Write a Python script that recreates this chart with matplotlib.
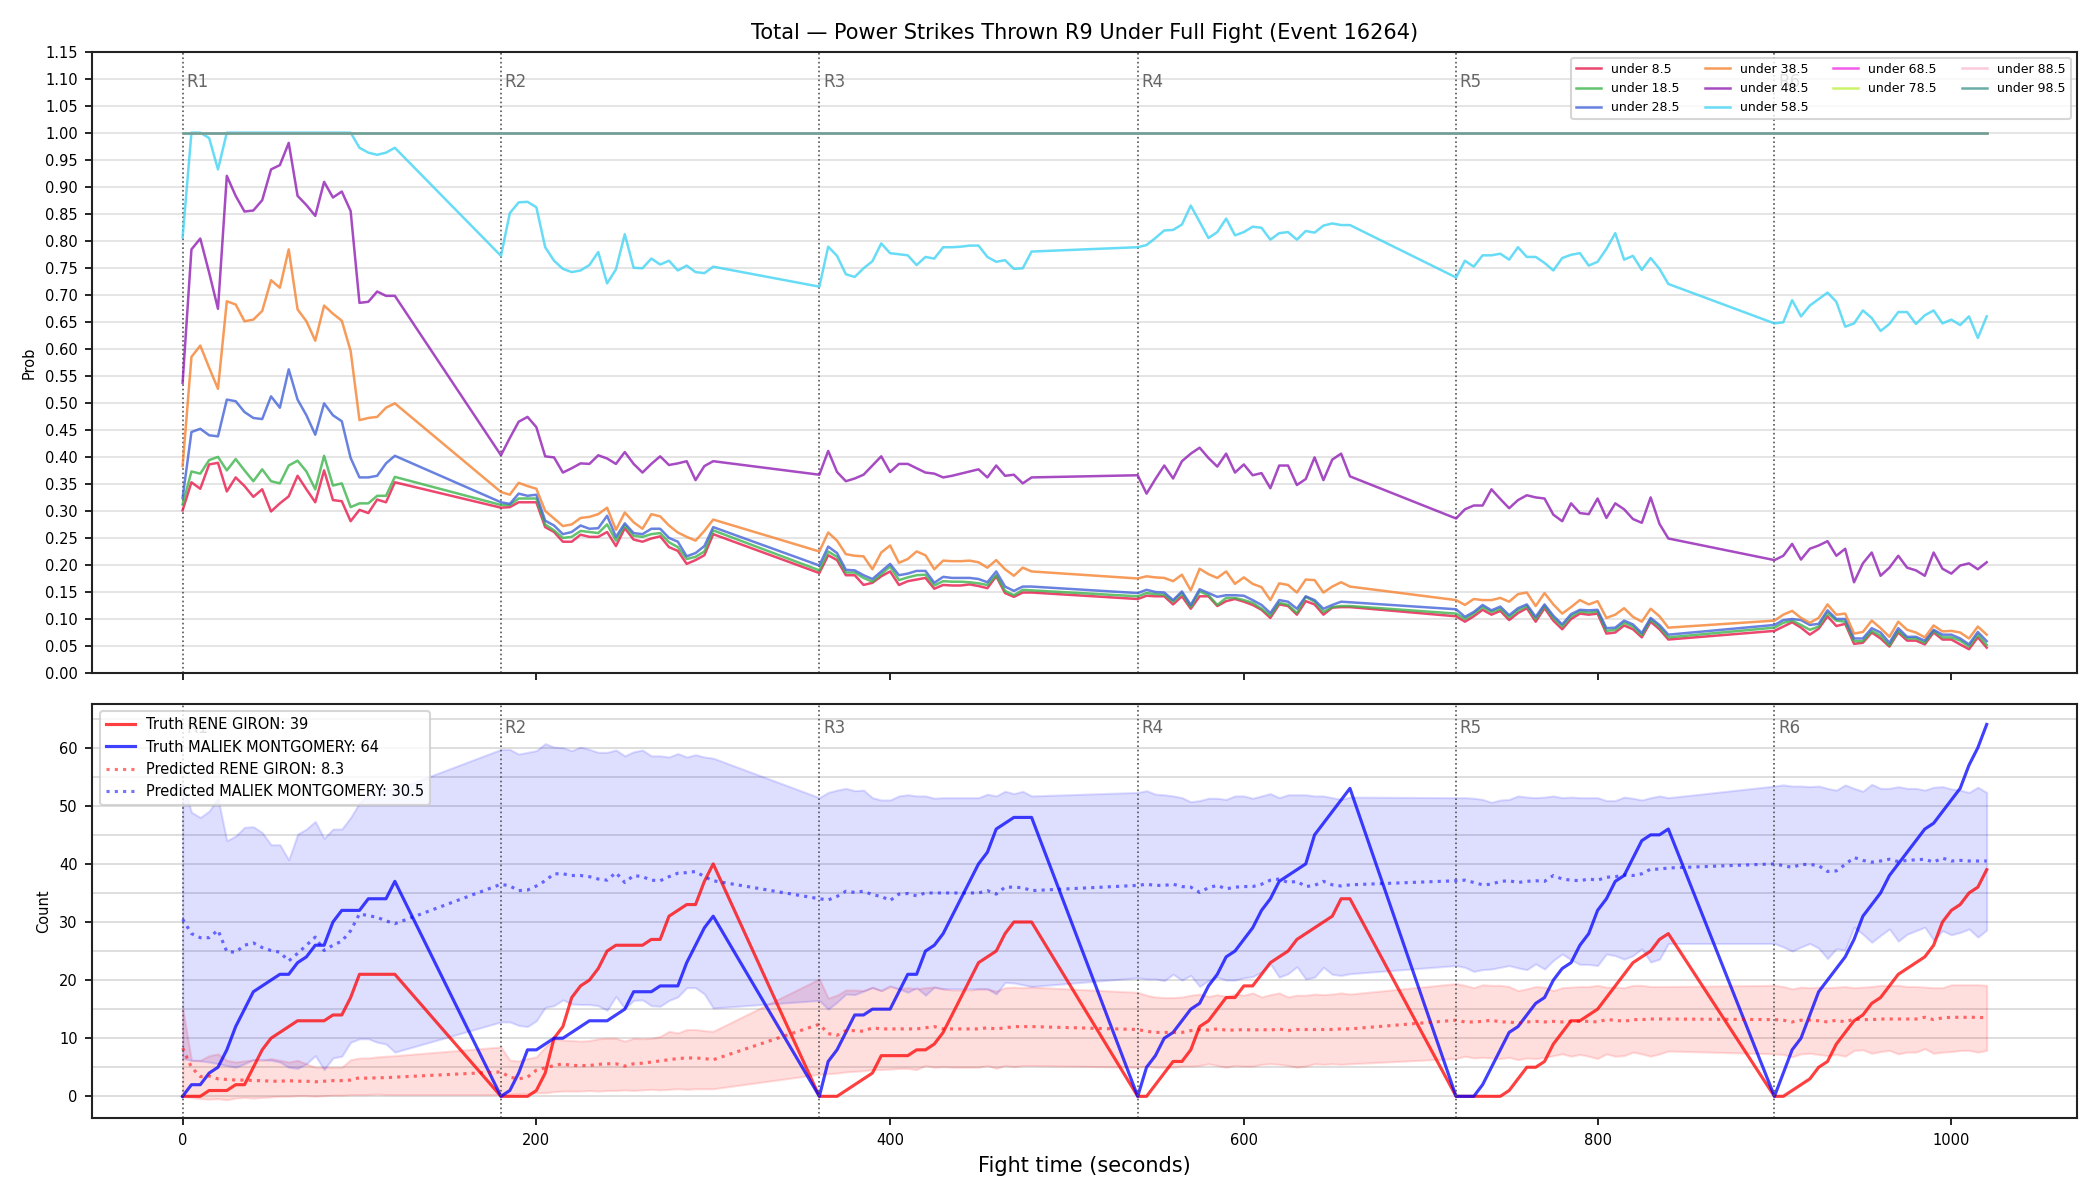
#!/usr/bin/python3

## Power strikes thrown: threshold probabilities (top) and running counts (bottom)

import matplotlib
matplotlib.use("Agg")
import matplotlib.pyplot as plt
import matplotlib.transforms as mtransforms
from matplotlib.ticker import MultipleLocator, FormatStrFormatter

# 0 _ Data
#
ROUND_STARTS = [0, 180, 360, 540, 720, 900]
ROUND_NAMES = ["R1", "R2", "R3", "R4", "R5", "R6"]

# samples every 5 s for the first 120 s of each round
TIME = [start + step for start in ROUND_STARTS for step in range(0, 125, 5)]

THRESH_LABELS = ["under 8.5", "under 18.5", "under 28.5", "under 38.5", "under 48.5",
                 "under 58.5", "under 68.5", "under 78.5", "under 88.5", "under 98.5"]

UNDER_8_5 = [
    0.301, 0.353, 0.341, 0.386, 0.389, 0.336, 0.362, 0.346, 0.326, 0.340, 0.299, 0.314, 0.327, 0.365, 0.340, 0.316, 0.375, 0.320, 0.318, 0.281, 0.302, 0.296, 0.321, 0.316, 0.353,
    0.306, 0.307, 0.316, 0.316, 0.316, 0.270, 0.261, 0.243, 0.243, 0.256, 0.252, 0.252, 0.261, 0.235, 0.268, 0.247, 0.243, 0.249, 0.253, 0.233, 0.226, 0.202, 0.209, 0.218, 0.257,
    0.185, 0.218, 0.209, 0.181, 0.181, 0.163, 0.167, 0.179, 0.188, 0.163, 0.170, 0.173, 0.176, 0.156, 0.163, 0.162, 0.162, 0.164, 0.161, 0.157, 0.179, 0.148, 0.141, 0.149, 0.149,
    0.137, 0.143, 0.142, 0.142, 0.127, 0.142, 0.119, 0.142, 0.142, 0.124, 0.133, 0.137, 0.132, 0.126, 0.117, 0.102, 0.127, 0.124, 0.108, 0.133, 0.127, 0.108, 0.121, 0.122, 0.122,
    0.105, 0.095, 0.105, 0.117, 0.108, 0.115, 0.098, 0.111, 0.120, 0.095, 0.120, 0.097, 0.081, 0.100, 0.110, 0.108, 0.110, 0.073, 0.075, 0.088, 0.081, 0.066, 0.095, 0.081, 0.062,
    0.078, 0.086, 0.094, 0.084, 0.071, 0.082, 0.105, 0.087, 0.091, 0.054, 0.056, 0.075, 0.064, 0.049, 0.075, 0.060, 0.060, 0.053, 0.075, 0.062, 0.062, 0.053, 0.044, 0.066, 0.047,
]
UNDER_18_5 = [
    0.312, 0.373, 0.369, 0.394, 0.400, 0.375, 0.396, 0.375, 0.355, 0.377, 0.355, 0.351, 0.384, 0.393, 0.373, 0.340, 0.402, 0.347, 0.351, 0.307, 0.314, 0.314, 0.328, 0.328, 0.363,
    0.311, 0.311, 0.323, 0.323, 0.323, 0.275, 0.264, 0.250, 0.252, 0.263, 0.261, 0.259, 0.275, 0.245, 0.273, 0.254, 0.252, 0.257, 0.259, 0.242, 0.233, 0.211, 0.215, 0.225, 0.264,
    0.190, 0.225, 0.215, 0.186, 0.186, 0.176, 0.169, 0.183, 0.197, 0.172, 0.177, 0.181, 0.182, 0.162, 0.170, 0.169, 0.169, 0.168, 0.166, 0.163, 0.181, 0.152, 0.144, 0.154, 0.153,
    0.142, 0.148, 0.146, 0.145, 0.132, 0.148, 0.122, 0.151, 0.144, 0.126, 0.139, 0.139, 0.135, 0.130, 0.119, 0.106, 0.130, 0.126, 0.111, 0.141, 0.132, 0.113, 0.122, 0.124, 0.124,
    0.110, 0.100, 0.110, 0.122, 0.113, 0.119, 0.103, 0.116, 0.124, 0.100, 0.124, 0.102, 0.086, 0.105, 0.114, 0.112, 0.114, 0.078, 0.080, 0.093, 0.086, 0.070, 0.099, 0.085, 0.066,
    0.084, 0.093, 0.097, 0.089, 0.080, 0.086, 0.111, 0.097, 0.095, 0.059, 0.059, 0.078, 0.069, 0.051, 0.078, 0.064, 0.064, 0.056, 0.078, 0.066, 0.066, 0.060, 0.049, 0.071, 0.052,
]
UNDER_28_5 = [
    0.324, 0.446, 0.452, 0.440, 0.438, 0.506, 0.503, 0.483, 0.472, 0.470, 0.512, 0.491, 0.562, 0.506, 0.477, 0.441, 0.499, 0.477, 0.466, 0.398, 0.362, 0.362, 0.365, 0.388, 0.402,
    0.316, 0.313, 0.332, 0.328, 0.330, 0.282, 0.273, 0.257, 0.261, 0.273, 0.267, 0.268, 0.291, 0.252, 0.277, 0.259, 0.257, 0.267, 0.267, 0.250, 0.243, 0.216, 0.222, 0.235, 0.270,
    0.199, 0.234, 0.222, 0.191, 0.190, 0.181, 0.174, 0.188, 0.202, 0.181, 0.184, 0.189, 0.189, 0.167, 0.178, 0.176, 0.176, 0.176, 0.174, 0.168, 0.188, 0.160, 0.152, 0.160, 0.160,
    0.148, 0.154, 0.150, 0.149, 0.135, 0.151, 0.126, 0.155, 0.148, 0.141, 0.144, 0.144, 0.143, 0.135, 0.126, 0.111, 0.135, 0.132, 0.119, 0.142, 0.135, 0.119, 0.126, 0.132, 0.131,
    0.118, 0.104, 0.113, 0.126, 0.116, 0.123, 0.107, 0.120, 0.127, 0.104, 0.127, 0.106, 0.090, 0.109, 0.117, 0.116, 0.117, 0.083, 0.084, 0.097, 0.090, 0.074, 0.102, 0.089, 0.071,
    0.089, 0.098, 0.100, 0.098, 0.089, 0.091, 0.116, 0.100, 0.100, 0.064, 0.064, 0.083, 0.075, 0.056, 0.083, 0.067, 0.067, 0.060, 0.080, 0.071, 0.071, 0.064, 0.053, 0.076, 0.059,
]
UNDER_38_5 = [
    0.383, 0.585, 0.606, 0.565, 0.526, 0.688, 0.682, 0.651, 0.654, 0.670, 0.727, 0.713, 0.784, 0.673, 0.651, 0.615, 0.680, 0.665, 0.652, 0.596, 0.468, 0.472, 0.474, 0.491, 0.499,
    0.335, 0.330, 0.352, 0.346, 0.341, 0.300, 0.286, 0.272, 0.275, 0.287, 0.289, 0.294, 0.306, 0.265, 0.297, 0.279, 0.267, 0.294, 0.290, 0.273, 0.260, 0.252, 0.245, 0.263, 0.284,
    0.225, 0.260, 0.245, 0.220, 0.217, 0.216, 0.192, 0.223, 0.236, 0.204, 0.211, 0.225, 0.218, 0.192, 0.208, 0.207, 0.207, 0.208, 0.205, 0.195, 0.209, 0.192, 0.180, 0.195, 0.188,
    0.175, 0.179, 0.177, 0.176, 0.170, 0.182, 0.153, 0.193, 0.183, 0.176, 0.188, 0.165, 0.177, 0.165, 0.159, 0.135, 0.166, 0.163, 0.149, 0.173, 0.172, 0.149, 0.160, 0.168, 0.160,
    0.135, 0.126, 0.137, 0.135, 0.135, 0.139, 0.132, 0.146, 0.149, 0.124, 0.148, 0.127, 0.110, 0.122, 0.135, 0.127, 0.133, 0.102, 0.108, 0.120, 0.104, 0.095, 0.119, 0.105, 0.084,
    0.097, 0.108, 0.115, 0.102, 0.093, 0.102, 0.127, 0.108, 0.110, 0.073, 0.076, 0.097, 0.083, 0.067, 0.095, 0.080, 0.075, 0.066, 0.088, 0.077, 0.078, 0.075, 0.064, 0.086, 0.071,
]
UNDER_48_5 = [
    0.537, 0.784, 0.804, 0.741, 0.674, 0.920, 0.883, 0.854, 0.856, 0.875, 0.932, 0.940, 0.981, 0.883, 0.866, 0.846, 0.909, 0.880, 0.891, 0.855, 0.685, 0.687, 0.706, 0.698, 0.698,
    0.403, 0.435, 0.465, 0.474, 0.455, 0.401, 0.399, 0.371, 0.379, 0.388, 0.387, 0.403, 0.397, 0.387, 0.409, 0.387, 0.371, 0.387, 0.401, 0.385, 0.388, 0.392, 0.357, 0.383, 0.392,
    0.367, 0.411, 0.372, 0.355, 0.360, 0.367, 0.384, 0.401, 0.372, 0.387, 0.387, 0.379, 0.371, 0.369, 0.362, 0.365, 0.369, 0.373, 0.377, 0.362, 0.384, 0.365, 0.367, 0.351, 0.362,
    0.366, 0.332, 0.359, 0.384, 0.360, 0.392, 0.406, 0.417, 0.398, 0.382, 0.406, 0.371, 0.386, 0.366, 0.370, 0.342, 0.384, 0.384, 0.348, 0.359, 0.399, 0.357, 0.395, 0.406, 0.364,
    0.286, 0.303, 0.310, 0.310, 0.340, 0.322, 0.305, 0.320, 0.329, 0.325, 0.323, 0.293, 0.281, 0.314, 0.296, 0.294, 0.323, 0.287, 0.314, 0.303, 0.285, 0.278, 0.325, 0.276, 0.249,
    0.209, 0.217, 0.239, 0.210, 0.230, 0.236, 0.244, 0.217, 0.230, 0.168, 0.203, 0.223, 0.180, 0.195, 0.217, 0.195, 0.190, 0.180, 0.223, 0.193, 0.184, 0.199, 0.203, 0.192, 0.205,
]
UNDER_58_5 = [
    0.806, 1.000, 1.000, 0.990, 0.932, 1.000, 1.000, 1.000, 1.000, 1.000, 1.000, 1.000, 1.000, 1.000, 1.000, 1.000, 1.000, 1.000, 1.000, 1.000, 0.972, 0.963, 0.959, 0.963, 0.972,
    0.772, 0.851, 0.871, 0.872, 0.862, 0.788, 0.763, 0.748, 0.742, 0.745, 0.755, 0.779, 0.721, 0.747, 0.812, 0.750, 0.749, 0.767, 0.756, 0.763, 0.745, 0.754, 0.742, 0.740, 0.752,
    0.715, 0.789, 0.772, 0.738, 0.733, 0.749, 0.762, 0.795, 0.777, 0.775, 0.773, 0.755, 0.770, 0.767, 0.788, 0.788, 0.789, 0.791, 0.791, 0.770, 0.761, 0.764, 0.748, 0.749, 0.780,
    0.788, 0.792, 0.805, 0.819, 0.820, 0.830, 0.865, 0.835, 0.805, 0.816, 0.841, 0.810, 0.816, 0.826, 0.824, 0.802, 0.814, 0.816, 0.802, 0.818, 0.815, 0.828, 0.832, 0.829, 0.829,
    0.732, 0.763, 0.752, 0.773, 0.773, 0.776, 0.765, 0.788, 0.770, 0.770, 0.759, 0.745, 0.768, 0.774, 0.777, 0.754, 0.761, 0.785, 0.814, 0.765, 0.772, 0.746, 0.768, 0.748, 0.720,
    0.647, 0.649, 0.690, 0.660, 0.680, 0.692, 0.704, 0.687, 0.641, 0.647, 0.671, 0.657, 0.633, 0.646, 0.668, 0.668, 0.646, 0.662, 0.671, 0.647, 0.654, 0.644, 0.660, 0.620, 0.660,
]
# the four highest thresholds sit at 1.0 for the whole fight
SATURATED = [1.0] * len(TIME)

TRUTH_RED = [
    0, 0, 0, 1, 1, 1, 2, 2, 5, 8, 10, 11, 12, 13, 13, 13, 13, 14, 14, 17, 21, 21, 21, 21, 21,
    0, 0, 0, 0, 1, 4, 10, 12, 17, 19, 20, 22, 25, 26, 26, 26, 26, 27, 27, 31, 32, 33, 33, 37, 40,
    0, 0, 0, 1, 2, 3, 4, 7, 7, 7, 7, 8, 8, 9, 11, 14, 17, 20, 23, 24, 25, 28, 30, 30, 30,
    0, 0, 2, 4, 6, 6, 8, 12, 13, 15, 17, 17, 19, 19, 21, 23, 24, 25, 27, 28, 29, 30, 31, 34, 34,
    0, 0, 0, 0, 0, 0, 1, 3, 5, 5, 6, 9, 11, 13, 13, 14, 15, 17, 19, 21, 23, 24, 25, 27, 28,
    0, 0, 1, 2, 3, 5, 6, 9, 11, 13, 14, 16, 17, 19, 21, 22, 23, 24, 26, 30, 32, 33, 35, 36, 39,
]
TRUTH_BLUE = [
    0, 2, 2, 4, 5, 8, 12, 15, 18, 19, 20, 21, 21, 23, 24, 26, 26, 30, 32, 32, 32, 34, 34, 34, 37,
    0, 1, 4, 8, 8, 9, 10, 10, 11, 12, 13, 13, 13, 14, 15, 18, 18, 18, 19, 19, 19, 23, 26, 29, 31,
    0, 6, 8, 11, 14, 14, 15, 15, 15, 18, 21, 21, 25, 26, 28, 31, 34, 37, 40, 42, 46, 47, 48, 48, 48,
    0, 5, 7, 10, 11, 13, 15, 16, 19, 21, 24, 25, 27, 29, 32, 34, 37, 38, 39, 40, 45, 47, 49, 51, 53,
    0, 0, 0, 2, 5, 8, 11, 12, 14, 16, 17, 20, 22, 23, 26, 28, 32, 34, 37, 38, 41, 44, 45, 45, 46,
    0, 4, 8, 10, 14, 18, 20, 22, 24, 27, 31, 33, 35, 38, 40, 42, 44, 46, 47, 49, 51, 53, 57, 60, 64,
]
PRED_RED = [
    8.3, 5.0, 3.4, 3.5, 3.0, 2.9, 2.8, 2.8, 2.7, 2.7, 2.6, 2.6, 2.7, 2.6, 2.6, 2.5, 2.6, 2.7, 2.7, 2.8, 3.2, 3.1, 3.2, 3.2, 3.3,
    4.2, 3.3, 3.0, 3.3, 4.5, 4.9, 5.3, 5.6, 5.3, 5.3, 5.3, 5.5, 5.6, 5.6, 5.2, 5.6, 5.7, 5.9, 6.1, 6.3, 6.5, 6.6, 6.6, 6.5, 6.3,
    12.4, 10.8, 10.5, 11.3, 11.3, 11.2, 11.8, 11.6, 11.6, 11.6, 11.6, 11.6, 11.8, 12.0, 11.6, 11.6, 11.6, 11.6, 11.6, 11.8, 11.6, 11.8, 12.0, 12.0, 12.0,
    11.5, 11.2, 11.0, 11.0, 11.0, 11.0, 11.3, 11.5, 11.4, 11.6, 11.4, 11.4, 11.5, 11.4, 11.5, 11.4, 11.6, 11.3, 11.5, 11.5, 11.5, 11.5, 11.5, 11.6, 11.6,
    13.1, 12.8, 12.8, 12.9, 13.1, 12.8, 12.8, 12.6, 12.8, 12.9, 12.8, 12.9, 12.8, 12.9, 12.9, 12.9, 12.8, 13.2, 13.1, 12.9, 13.2, 13.2, 13.3, 13.3, 13.3,
    13.2, 13.1, 12.8, 13.1, 13.1, 13.0, 12.8, 13.1, 12.8, 13.3, 13.2, 13.2, 13.3, 13.3, 13.3, 13.3, 13.3, 13.6, 13.2, 13.5, 13.6, 13.6, 13.6, 13.6, 13.5,
]
PRED_BLUE = [
    30.5, 28.0, 27.3, 27.3, 28.6, 24.9, 24.8, 26.0, 26.4, 25.6, 25.1, 24.8, 23.3, 24.6, 26.0, 27.4, 25.1, 26.0, 26.7, 28.5, 31.4, 31.1, 30.8, 30.2, 29.7,
    36.5, 36.2, 35.4, 35.5, 36.2, 37.1, 38.3, 38.3, 38.0, 38.0, 37.8, 37.4, 37.2, 38.5, 36.8, 38.0, 37.8, 37.2, 37.1, 37.8, 38.4, 38.5, 38.7, 37.8, 37.1,
    34.0, 33.8, 34.4, 35.3, 35.1, 35.3, 34.7, 34.4, 33.7, 34.8, 34.9, 34.5, 35.0, 35.0, 35.0, 35.0, 35.0, 35.0, 35.0, 35.4, 34.8, 36.0, 36.0, 35.9, 35.4,
    36.3, 36.5, 36.3, 36.3, 36.5, 36.1, 36.0, 35.1, 35.9, 36.3, 35.7, 36.0, 36.1, 36.1, 36.5, 37.2, 37.4, 36.8, 37.0, 36.1, 36.3, 37.0, 36.4, 36.2, 36.4,
    37.1, 37.2, 36.8, 36.4, 36.5, 37.0, 37.1, 36.8, 37.0, 37.1, 37.0, 38.0, 37.4, 37.2, 37.1, 37.4, 37.2, 37.7, 37.8, 38.1, 38.0, 38.3, 39.1, 39.1, 39.3,
    40.0, 39.7, 39.4, 39.9, 39.9, 39.7, 38.7, 38.8, 39.9, 41.1, 40.6, 40.3, 40.5, 40.8, 40.4, 40.6, 40.7, 40.8, 40.3, 41.0, 40.5, 40.6, 40.5, 40.5, 40.5,
]
BLUE_HI = [
    54.0, 48.9, 48.0, 49.1, 51.3, 44.0, 44.8, 46.3, 46.4, 45.4, 43.3, 43.3, 40.7, 45.1, 46.0, 47.3, 44.4, 46.0, 46.0, 48.0, 50.5, 52.0, 52.5, 52.8, 52.8,
    59.7, 59.7, 58.9, 59.2, 59.5, 60.7, 60.1, 60.0, 59.5, 60.1, 59.7, 59.2, 59.2, 59.6, 58.6, 59.3, 59.6, 58.6, 58.6, 58.4, 59.0, 58.4, 58.8, 58.4, 58.2,
    51.4, 52.3, 52.7, 53.0, 52.6, 52.7, 51.4, 51.0, 51.0, 51.7, 51.9, 51.7, 51.7, 51.3, 51.4, 51.4, 51.4, 51.4, 51.4, 52.0, 51.7, 52.5, 52.1, 52.5, 51.7,
    52.3, 52.6, 52.0, 51.9, 51.7, 51.4, 50.7, 50.9, 51.3, 51.3, 51.1, 51.7, 51.7, 51.3, 51.7, 52.1, 51.4, 51.9, 51.9, 51.9, 51.7, 51.7, 51.4, 51.1, 51.5,
    51.4, 51.4, 51.3, 51.1, 50.6, 51.0, 51.1, 51.7, 51.5, 51.4, 51.5, 51.7, 51.4, 51.5, 51.4, 51.4, 51.4, 50.9, 50.9, 51.5, 51.3, 51.0, 51.4, 51.7, 51.4,
    53.4, 53.6, 53.4, 53.4, 53.3, 53.4, 53.0, 52.7, 53.6, 53.0, 52.5, 53.7, 53.0, 53.0, 53.3, 53.0, 53.0, 52.7, 53.2, 53.3, 52.9, 52.7, 52.3, 53.2, 52.3,
]
BLUE_LO = [
    6.5, 6.2, 6.1, 5.9, 5.6, 5.3, 5.0, 5.6, 6.3, 6.3, 6.2, 5.9, 5.0, 4.8, 5.6, 7.0, 4.6, 6.6, 6.9, 9.3, 9.9, 9.9, 9.3, 9.0, 7.6,
    12.8, 12.8, 12.2, 12.0, 13.0, 15.3, 15.6, 16.6, 15.9, 15.8, 15.8, 15.6, 14.8, 17.2, 15.1, 16.5, 16.6, 15.6, 15.5, 16.5, 17.1, 18.7, 18.7, 17.6, 15.2,
    16.5, 15.0, 16.2, 17.6, 17.5, 18.1, 18.7, 18.2, 19.0, 18.5, 17.9, 18.7, 17.4, 18.8, 18.5, 18.5, 18.5, 18.5, 18.5, 18.5, 17.6, 19.6, 19.5, 19.2, 18.9,
    20.4, 20.2, 20.2, 19.9, 21.0, 20.0, 20.8, 18.9, 19.9, 20.5, 20.0, 20.0, 20.4, 20.6, 21.4, 22.8, 20.5, 21.1, 22.3, 20.2, 20.5, 22.2, 21.0, 20.8, 21.1,
    22.5, 22.2, 21.5, 21.8, 21.9, 22.2, 22.5, 22.1, 21.8, 22.8, 21.9, 23.4, 24.5, 23.5, 22.7, 22.7, 22.5, 24.5, 24.2, 23.6, 24.2, 25.4, 23.1, 23.6, 26.3,
    26.3, 25.7, 25.0, 25.7, 26.3, 25.5, 23.7, 25.4, 25.2, 29.1, 27.9, 26.5, 27.7, 28.8, 26.7, 27.9, 28.5, 29.1, 26.9, 28.5, 27.8, 28.2, 28.8, 27.4, 28.6,
]
RED_HI = [
    15.3, 6.2, 6.2, 7.0, 7.3, 6.2, 5.9, 6.1, 6.3, 6.2, 6.5, 6.2, 5.9, 6.2, 5.6, 5.0, 5.0, 5.0, 5.0, 6.3, 6.6, 6.6, 6.8, 6.9, 7.0,
    8.5, 6.2, 6.1, 6.5, 6.8, 8.5, 9.9, 9.7, 9.6, 9.5, 9.6, 9.9, 10.0, 10.0, 9.5, 10.0, 9.9, 10.0, 10.3, 11.2, 10.9, 11.5, 11.5, 11.3, 11.2,
    20.2, 16.9, 17.4, 18.3, 18.3, 18.2, 18.8, 18.2, 18.9, 18.5, 18.7, 18.5, 18.7, 18.8, 18.5, 18.3, 18.3, 18.3, 18.5, 18.5, 18.1, 18.7, 18.8, 18.7, 18.8,
    17.9, 17.4, 17.1, 17.0, 17.0, 17.1, 17.4, 17.6, 17.2, 17.5, 17.2, 17.6, 17.4, 17.8, 17.1, 17.5, 17.8, 17.1, 17.4, 17.4, 17.6, 17.5, 17.6, 17.8, 17.6,
    19.4, 19.1, 18.7, 19.2, 19.1, 19.1, 18.9, 18.2, 18.5, 18.9, 18.8, 18.2, 18.7, 18.8, 18.9, 18.9, 19.1, 18.8, 18.8, 18.7, 19.1, 19.1, 18.9, 18.9, 18.9,
    19.1, 18.9, 18.5, 18.8, 18.7, 18.8, 18.7, 18.8, 18.9, 18.7, 18.8, 18.9, 19.1, 19.1, 19.1, 18.9, 18.9, 18.8, 18.7, 18.7, 19.2, 19.2, 19.2, 19.2, 19.1,
]
RED_LO = [
    0.0, -0.2, -0.4, -0.5, -0.4, -0.6, -0.3, -0.2, -0.3, -0.2, -0.1, 0.0, 0.0, 0.1, 0.1, 0.0, 0.1, 0.2, 0.2, 0.3, 0.3, 0.3, 0.4, 0.3, 0.3,
    0.3, 0.4, 0.5, 0.5, 0.6, 0.6, 0.8, 0.9, 0.9, 0.9, 1.0, 0.9, 1.0, 1.0, 1.1, 1.0, 1.1, 1.2, 1.1, 1.2, 1.3, 1.2, 1.3, 1.3, 1.3,
    3.8, 3.9, 4.0, 4.2, 4.3, 4.4, 4.6, 4.6, 4.7, 4.8, 4.8, 4.6, 5.3, 5.0, 5.1, 5.0, 5.0, 5.0, 5.0, 5.3, 4.8, 5.3, 5.1, 5.3, 5.3,
    5.0, 5.2, 5.0, 5.0, 5.0, 5.2, 5.2, 5.3, 5.6, 5.3, 5.0, 5.3, 5.2, 5.2, 5.5, 5.6, 5.5, 5.3, 5.0, 5.2, 5.6, 5.5, 5.6, 5.5, 5.6,
    6.5, 6.9, 6.6, 6.7, 6.6, 6.5, 6.7, 6.3, 6.6, 6.5, 6.7, 7.0, 7.3, 6.9, 7.2, 6.9, 6.5, 7.3, 6.9, 7.0, 7.6, 7.3, 6.9, 7.3, 7.8,
    7.3, 7.2, 6.8, 7.3, 7.4, 7.2, 7.0, 7.2, 6.9, 7.9, 8.0, 7.4, 7.7, 7.9, 7.3, 7.6, 7.6, 8.2, 7.4, 7.6, 7.7, 7.9, 7.9, 7.6, 7.9,
]

RED_NAME = "RENE GIRON"
BLUE_NAME = "MALIEK MONTGOMERY"

# 1 _ Figure layout
#
fig = plt.figure(figsize=(14, 8), dpi=150)
gs = fig.add_gridspec(2, 1, height_ratios=[3, 2], left=0.044, right=0.989,
                      top=0.957, bottom=0.068, hspace=0.06)
ax_top = fig.add_subplot(gs[0])
ax_bot = fig.add_subplot(gs[1], sharex=ax_top)

# 2 _ Threshold probabilities
#
top_series = [UNDER_8_5, UNDER_18_5, UNDER_28_5, UNDER_38_5, UNDER_48_5, UNDER_58_5,
              SATURATED, SATURATED, SATURATED, SATURATED]
thresh_colors = ["#e6194b", "#3cb44b", "#4363d8", "#f58231", "#911eb4",
                 "#42d4f4", "#f032e6", "#bfef45", "#fabed4", "#469990"]

for label, values, color in zip(THRESH_LABELS, top_series, thresh_colors):
    ax_top.plot(TIME, values, color=color, alpha=0.8, lw=1.2, label=label, zorder=3)

ax_top.set_ylim(0, 1.15)
ax_top.yaxis.set_major_locator(MultipleLocator(0.05))
ax_top.yaxis.set_major_formatter(FormatStrFormatter("%.2f"))
ax_top.grid(axis="y", color="#e0e0e0", lw=0.8)
ax_top.set_axisbelow(True)
ax_top.set_ylabel("Prob", fontsize=7)
ax_top.set_title("Total \u2014 Power Strikes Thrown R9 Under Full Fight (Event 16264)", fontsize=10)
ax_top.tick_params(labelsize=7)
plt.setp(ax_top.get_xticklabels(), visible=False)
ax_top.legend(loc="upper right", ncol=4, fontsize=6)

# 3 _ Running counts with prediction bands
#
ax_bot.fill_between(TIME, RED_LO, RED_HI, color="red", alpha=0.13)
ax_bot.fill_between(TIME, BLUE_LO, BLUE_HI, color="blue", alpha=0.13)
ax_bot.plot(TIME, TRUTH_RED, color="red", alpha=0.75, lw=1.5,
            label="Truth %s: %d" % (RED_NAME, TRUTH_RED[-1]))
ax_bot.plot(TIME, TRUTH_BLUE, color="blue", alpha=0.75, lw=1.5,
            label="Truth %s: %d" % (BLUE_NAME, TRUTH_BLUE[-1]))
ax_bot.plot(TIME, PRED_RED, color="red", alpha=0.55, lw=1.5, ls=":",
            label="Predicted %s: %s" % (RED_NAME, PRED_RED[0]))
ax_bot.plot(TIME, PRED_BLUE, color="blue", alpha=0.55, lw=1.5, ls=":",
            label="Predicted %s: %s" % (BLUE_NAME, PRED_BLUE[0]))

ax_bot.set_ylim(-3.8, 67.5)
ax_bot.yaxis.set_major_locator(MultipleLocator(10))
ax_bot.yaxis.set_minor_locator(MultipleLocator(5))
ax_bot.grid(axis="y", which="both", color="#d8d8d8", lw=0.8)
ax_bot.set_axisbelow(True)
ax_bot.tick_params(labelsize=7)
ax_bot.tick_params(axis="y", which="minor", length=0)
ax_bot.set_ylabel("Count", fontsize=7)
ax_bot.set_xlabel("Fight time (seconds)", fontsize=10)
ax_bot.legend(loc="upper left", fontsize=7)

# Round markers on both panels (R1 / R6 labels sit under the legends, as in the source)
for ax in (ax_top, ax_bot):
    trans = mtransforms.blended_transform_factory(ax.transData, ax.transAxes)
    for start, name in zip(ROUND_STARTS, ROUND_NAMES):
        ax.axvline(start, color="#555555", ls=":", lw=0.8, zorder=2)
        ax.text(start + 2, 0.965, name, transform=trans, ha="left", va="top",
                fontsize=8, color="#666666", zorder=2)

for ax in (ax_top, ax_bot):
    for spine in ax.spines.values():
        spine.set_linewidth(1.0)
        spine.set_color("#222222")

plt.savefig("out.png", dpi=150)
